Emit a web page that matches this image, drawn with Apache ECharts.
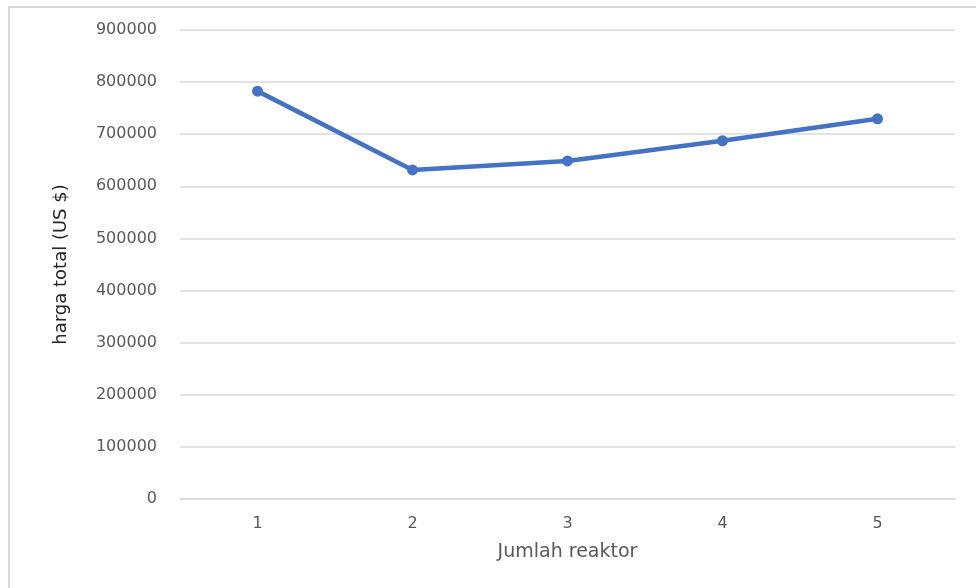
<!DOCTYPE html>
<html>
<head>
<meta charset="utf-8">
<script src="https://cdn.jsdelivr.net/npm/echarts@6/dist/echarts.min.js"></script>
<style>
  html, body { margin: 0; padding: 0; background: #fff; }
  #chart { width: 976px; height: 588px; }
</style>
</head>
<body>
<div id="chart"></div>
<script>
const categories = ["1", "2", "3", "4", "5"];
const hargaTotal = [782700, 631500, 648700, 687500, 729500];
const yTicks = { min: 0, max: 900000, interval: 100000 };

const chart = echarts.init(document.getElementById("chart"));

chart.setOption({
  animation: false,
  textStyle: { fontFamily: "DejaVu Sans" },
  grid: { left: 180, right: 21, top: 30, bottom: 89 },
  graphic: [{
    type: "rect",
    silent: true,
    shape: { x: 9, y: 7, width: 1000, height: 620 },
    style: { fill: "none", stroke: "#d9d9d9", lineWidth: 2 }
  }],
  xAxis: {
    type: "category",
    data: categories,
    boundaryGap: true,
    name: "Jumlah reaktor",
    nameLocation: "middle",
    nameGap: 44,
    nameTextStyle: { color: "#595959", fontSize: 19 },
    axisLine: { show: true, lineStyle: { color: "#d9d9d9", width: 1.5 } },
    axisTick: { show: false },
    axisLabel: { color: "#595959", fontSize: 16, margin: 17 }
  },
  yAxis: {
    type: "value",
    min: yTicks.min,
    max: yTicks.max,
    interval: yTicks.interval,
    name: "harga total (US $)",
    nameLocation: "middle",
    nameGap: 110,
    nameTextStyle: { color: "#262626", fontSize: 18 },
    axisLine: { show: false },
    axisTick: { show: false },
    axisLabel: { color: "#595959", fontSize: 16, margin: 23, formatter: (v) => String(v) },
    splitLine: { lineStyle: { color: "#d9d9d9", width: 1.5 } }
  },
  series: [{
    type: "line",
    data: hargaTotal,
    symbol: "circle",
    symbolSize: 11,
    itemStyle: { color: "#4472C4" },
    lineStyle: { color: "#4472C4", width: 4.5 }
  }]
});
</script>
</body>
</html>
